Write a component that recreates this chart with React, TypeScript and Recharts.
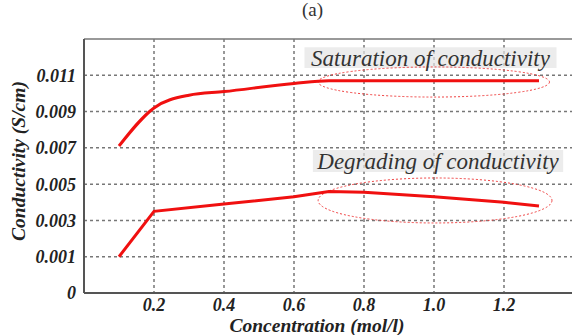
import {
  LineChart,
  Line,
  XAxis,
  YAxis,
  CartesianGrid,
  ReferenceArea,
  ReferenceLine,
} from "recharts";

// concentration (mol/l) and conductivity (S/cm)
const satConc = [0.1, 0.2, 0.3, 0.4, 0.6, 0.7, 0.8, 1.0, 1.2, 1.3];
const satValues = [0.0071, 0.0092, 0.0099, 0.0101, 0.01055, 0.0107, 0.0107, 0.0107, 0.0107, 0.0107];

const degConc = [0.1, 0.2, 0.4, 0.6, 0.7, 0.8, 1.0, 1.2, 1.3];
const degValues = [0.001, 0.0035, 0.0039, 0.0043, 0.0046, 0.00455, 0.0043, 0.004, 0.0038];

const xTicks = [0.2, 0.4, 0.6, 0.8, 1.0, 1.2];
const yTicks = [-0.001, 0.001, 0.003, 0.005, 0.007, 0.009, 0.011];

const satData = satConc.map((x, i) => ({ x, y: satValues[i] }));
const degData = degConc.map((x, i) => ({ x, y: degValues[i] }));

const serif = "Liberation Serif, Times New Roman, serif";
const tickStyle = {
  fontFamily: serif,
  fontSize: 18,
  fontWeight: "bold" as const,
  fontStyle: "italic" as const,
  fill: "#222",
};

const labelStyle = {
  fontFamily: serif,
  fontSize: 19.5,
  fontWeight: "bold" as const,
  fontStyle: "italic" as const,
  fill: "#222",
};

const noteStyle = {
  fontFamily: serif,
  fontSize: 23,
  fontStyle: "italic" as const,
  fill: "#333",
};

const EllipseShape = (p: any) => (
  <ellipse
    cx={p.x + p.width / 2}
    cy={p.y + p.height / 2}
    rx={p.width / 2}
    ry={p.height / 2}
    fill="none"
    stroke="#f04040"
    strokeWidth={1}
    strokeDasharray="2 2"
  />
);

export default function App() {
  return (
    <div style={{ position: "absolute", left: 0, top: 0, width: 572, height: 335, overflow: "hidden", background: "#fff" }}>
      <div
        style={{
          position: "absolute",
          left: 302,
          top: 0,
          fontFamily: serif,
          fontSize: 19,
          lineHeight: "20px",
          color: "#333",
        }}
      >
        (a)
      </div>
      <LineChart width={574} height={335} margin={{ top: 39, right: 0, bottom: 0, left: 0 }}>
        <CartesianGrid
          stroke="#777"
          strokeWidth={1.5}
          strokeDasharray="3 3"
          horizontalValues={[0.001, 0.003, 0.005, 0.007, 0.009, 0.011]}
          verticalValues={xTicks}
        />
        <XAxis
          type="number"
          dataKey="x"
          domain={[0, 1.4]}
          ticks={xTicks}
          tickFormatter={(v: number) => v.toFixed(1)}
          tick={{ ...tickStyle, dy: -3 }}
          tickLine={false}
          axisLine={{ stroke: "#555", strokeWidth: 2 }}
          height={42}
          allowDataOverflow
          label={{
            value: "Concentration (mol/l)",
            position: "insideBottom",
            offset: 3,
            dx: -12,
            style: labelStyle,
          }}
        />
        <YAxis
          type="number"
          domain={[-0.001, 0.013]}
          ticks={yTicks}
          tickFormatter={(v: number) => (v < 0 ? "0" : v.toFixed(3))}
          tick={tickStyle}
          tickLine={false}
          axisLine={{ stroke: "#555", strokeWidth: 2 }}
          width={84}
          allowDataOverflow
          label={{
            value: "Conductivity (S/cm)",
            angle: -90,
            position: "center",
            dx: -24,
            dy: -5,
            style: labelStyle,
          }}
        />
        <ReferenceLine y={0.013} stroke="#777" strokeWidth={1.5} />
        <ReferenceArea
          x1={0.63}
          x2={1.35}
          y1={0.0114}
          y2={0.01255}
          fill="#e4e4e4"
          fillOpacity={0.7}
          stroke="none"
          label={{ value: "Saturation of conductivity", position: "center", style: noteStyle }}
        />
        <ReferenceArea
          x1={0.654}
          x2={1.369}
          y1={0.00567}
          y2={0.00688}
          fill="#e4e4e4"
          fillOpacity={0.7}
          stroke="none"
          label={{ value: "Degrading of conductivity", position: "center", style: noteStyle }}
        />
        <Line
          data={satData}
          dataKey="y"
          type="monotone"
          stroke="#f01010"
          strokeWidth={3}
          dot={false}
          isAnimationActive={false}
        />
        <Line
          data={degData}
          dataKey="y"
          type="linear"
          stroke="#f01010"
          strokeWidth={3}
          dot={false}
          isAnimationActive={false}
        />
        <ReferenceArea x1={0.669} x2={1.33} y1={0.0098} y2={0.01146} shape={EllipseShape} />
        <ReferenceArea x1={0.669} x2={1.337} y1={0.00286} y2={0.00534} shape={EllipseShape} />
      </LineChart>
    </div>
  );
}
